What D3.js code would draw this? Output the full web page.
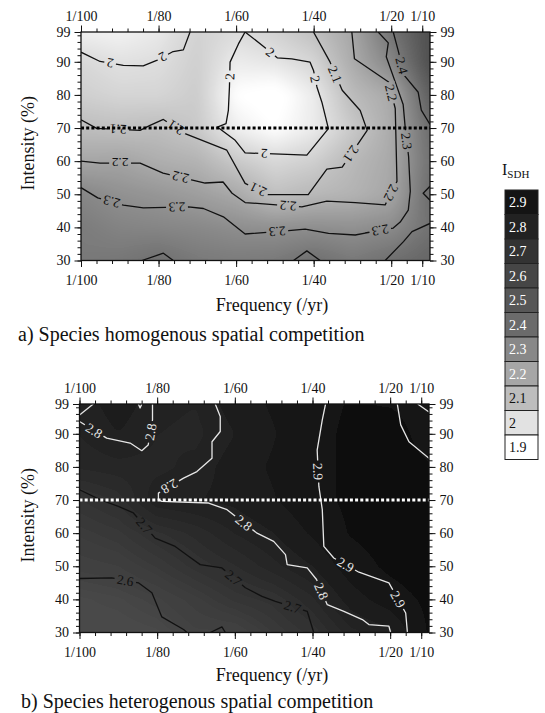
<!DOCTYPE html>
<html>
<head>
<meta charset="utf-8">
<script src="https://cdn.jsdelivr.net/npm/d3@7"></script>
<style>
  body { margin: 0; background: #fff; }
  svg { display: block; }
  text { font-family: "Liberation Serif", "Times New Roman", serif; }
</style>
</head>
<body>
<svg id="fig" width="545" height="713"></svg>
<script>
// ---- axes ----
const freqTicks = [0, 5, 10, 15, 20, 22];            // column index of each labelled frequency
const freqLabels = ["1/100", "1/80", "1/60", "1/40", "1/20", "1/10"];
const freqMinor = d3.range(0, 23);
const intensityTicks = [30, 40, 50, 60, 70, 80, 90, 99];
const intensityMinor = d3.range(30, 99, 2);
const thresholdIntensity = 70;

// ---- I_SDH field sampled on a coarse grid (rows: intensity, cols: frequency index) ----
const gridCols = [0, 2.5, 5, 7.5, 10, 12.5, 15, 17.5, 20, 22.5];
const gridRows = [99, 90, 80, 70, 60, 50, 40, 30];
const fieldA = [
  [1.95, 1.94, 1.97, 2.04, 2.01, 2.04, 2.10, 2.20, 2.39, 2.55],
  [2.02, 1.99, 2.00, 2.05, 1.96, 1.98, 2.03, 2.18, 2.32, 2.55],
  [2.05, 2.03, 2.03, 2.06, 1.90, 1.87, 1.96, 2.12, 2.19, 2.48],
  [2.11, 2.10, 2.11, 2.07, 1.95, 1.90, 1.96, 2.07, 2.18, 2.42],
  [2.20, 2.21, 2.17, 2.15, 2.07, 2.02, 2.05, 2.13, 2.19, 2.40],
  [2.32, 2.28, 2.26, 2.23, 2.19, 2.10, 2.13, 2.15, 2.20, 2.42],
  [2.36, 2.33, 2.32, 2.31, 2.29, 2.28, 2.29, 2.28, 2.30, 2.40],
  [2.37, 2.38, 2.41, 2.37, 2.36, 2.37, 2.41, 2.37, 2.41, 2.45]
];
const fieldB = [
  [2.79, 2.83, 2.79, 2.78, 2.83, 2.86, 2.89, 2.92, 2.91, 2.88],
  [2.78, 2.81, 2.78, 2.77, 2.81, 2.85, 2.89, 2.93, 2.95, 2.88],
  [2.76, 2.77, 2.77, 2.79, 2.83, 2.86, 2.89, 2.93, 2.95, 2.92],
  [2.69, 2.72, 2.80, 2.81, 2.82, 2.85, 2.89, 2.93, 2.96, 2.96],
  [2.65, 2.67, 2.71, 2.74, 2.78, 2.81, 2.86, 2.92, 2.95, 2.97],
  [2.62, 2.63, 2.66, 2.70, 2.73, 2.77, 2.81, 2.88, 2.93, 2.96],
  [2.58, 2.59, 2.61, 2.64, 2.68, 2.70, 2.75, 2.83, 2.88, 2.93],
  [2.57, 2.57, 2.58, 2.61, 2.61, 2.66, 2.70, 2.77, 2.80, 2.92]
];

// ---- isolines: [frequency index, intensity] vertices, labels placed on the line ----
const contoursA = [
  { level: 2, points: [[7.03,99],[6.6,93.6],[5.94,93.1],[4.88,90.4],[4.01,88.8],[2.73,88.9],[1.23,90.1],[0,92.9]],
    labels: [[5.29,91.3],[1.87,89.4]] },
  { level: 2, points: [[10.58,99],[11.81,94.5],[12.65,91.2],[13.59,90.9],[14.77,89.9],[14.99,87.4],[15.21,82.4],[15.53,77.8],[15.95,69.8],[14.56,61.8],[10.58,62.5],[9.94,66.3],[8.79,70.3],[9.35,71.3],[9.5,75.3],[9.57,82.4],[9.61,89.9],[10.15,95.4],[10.58,99]],
    labels: [[12.19,92.8],[15.03,84.7],[11.81,63.0],[9.55,85.6]] },
  { level: 2.1, points: [[14.99,99],[16.06,89.9],[16.84,81.4],[18.0,75.3],[18.45,69.3],[16.84,58.2],[15.85,57.6],[14.65,49.9],[12.06,49.9],[10.58,53.3],[9.4,63.3],[6.71,68.3],[5.31,72.6],[4.45,70.8],[3.81,69.3],[1.01,69.9],[0,72.5]],
    labels: [[16.52,86.5],[17.81,60.9],[11.42,51.5],[6.13,70.2],[2.39,69.6]] },
  { level: 2.2, points: [[17.46,99],[17.63,90.9],[19.83,83.9],[20.26,75.9],[20.37,53.9],[19.61,46.8],[17.68,47.5],[15.85,47.9],[14.24,46.2],[10.58,47.5],[9.74,50.3],[9.16,53.7],[8.0,53.4],[5.29,56.4],[3.81,59.4],[1.23,59.4],[0,60.0]],
    labels: [[19.87,80.5],[20.06,50.3],[13.35,46.7],[6.52,57.3],[2.52,61.2]] },
  { level: 2.3, points: [[19.16,99],[19.81,95.7],[19.68,91.5],[20.32,83.1],[20.77,77.1],[20.9,70.2],[21.12,61.4],[21.23,50.9],[21.1,45.2],[20.58,41.6],[20.13,39.8],[18.32,38.3],[17.68,37.7],[15.96,38.2],[14.45,39.5],[13.38,39.0],[10.58,38.0],[9.18,43.2],[7.89,45.7],[6.92,46.2],[4.02,45.9],[2.73,46.7],[1.08,48.9],[0,52.0]],
    labels: [[20.9,66],[19.29,39.2],[12.65,38.6],[6.19,45.8],[2.0,48.2]] },
  { level: 2.4, points: [[20.13,99],[20.45,93.4],[20.84,85.9],[21.74,80.8],[21.94,75.4],[22.5,71.1]], labels: [[20.71,88.9]] },
  { level: 2.4, points: [[22.5,52.4],[22.06,50.3],[22.5,48.2]], labels: [] },
  { level: 2.4, points: [[19.61,30],[20.79,35.7],[21.34,38.7],[22.5,41.2]], labels: [] },
  { level: 2.4, points: [[3.92,30],[5.31,32.2],[5.95,30]], labels: [] },
  { level: 2.4, points: [[13.7,30],[14.56,32.9],[15.42,30]], labels: [] }
];
const contoursB = [
  { level: 2.8, points: [[0,93.7],[1.75,88.7],[3.26,87.2],[4.01,84.9],[4.42,86.6],[4.7,94.2],[4.7,99]], labels: [[0.89,90.6],[4.55,90.6]] },
  { level: 2.8, points: [[0,95.7],[0.89,99]], labels: [] },
  { level: 2.8, points: [[3.79,99],[3.9,97.8],[4.01,99]], labels: [] },
  { level: 2.8, points: [[8.74,99],[9.06,95.2],[9.06,90.7],[8.53,87.6],[8.53,82.6],[7.56,78.6],[6.7,76.6],[5.08,72.1],[5.08,70.1],[5.3,69.6],[8.31,69.1],[9.5,67.1],[11.43,60.0],[12.5,57.5],[13.26,53.5],[13.37,50.5],[14.66,49.5],[15.26,46.0],[15.95,38.4],[17.02,36.4],[18.21,33.9],[18.63,32.4],[19.92,31.9],[20.03,30]],
    labels: [[5.73,74.6],[10.57,63.1],[15.52,42.4]] },
  { level: 2.9, points: [[15.84,99],[15.63,94.2],[15.3,85.1],[15.41,74.1],[15.63,67.1],[15.73,56.0],[16.37,52.5],[17.99,48.2],[19.92,45.0],[21.0,35.9],[21.11,30]],
    labels: [[15.3,78.6],[17.13,50.5],[20.46,39.9]] },
  { level: 2.9, points: [[20.46,99],[20.68,92.7],[21.21,87.6],[22.5,82.6]], labels: [] },
  { level: 2.9, points: [[21.77,99],[22.5,96.6]], labels: [] },
  { level: 2.7, points: [[0,73.1],[1.32,70.1],[2.5,68.1],[3.47,66.1],[4.87,58.5],[6.16,56.0],[7.02,53.0],[7.77,50.5],[9.17,49.5],[10.68,43.5],[11.75,40.9],[12.61,39.4],[14.66,36.4],[15.08,30]],
    labels: [[4.23,62.5],[9.92,46.5],[13.69,37.4]] },
  { level: 2.6, points: [[0,46.3],[2.08,46.5],[3.79,45.0],[4.66,42.0],[5.3,34.7],[6.7,30.9],[6.92,30]], labels: [[2.94,45.5]] },
  { level: 2.6, points: [[8.42,30],[9.17,31.7],[9.39,30]], labels: [] }
];

// ---- colour key ----
const legendLevels = [2.9, 2.8, 2.7, 2.6, 2.5, 2.4, 2.3, 2.2, 2.1, 2, 1.9];
const legendColors = ["#141414", "#222222", "#333333", "#464646", "#575757", "#6b6b6b",
                      "#888888", "#a6a6a6", "#bdbdbd", "#e2e2e2", "#ffffff"];
const shadeStops  = [1.9, 2.0, 2.1, 2.2, 2.3, 2.4, 2.5, 2.6, 2.7, 2.8, 2.9, 3.0];
const shadeColors = ["#ffffff", "#dedede", "#c0c0c0", "#a6a6a6", "#8b8b8b", "#717171",
                     "#595959", "#444444", "#323232", "#212121", "#131313", "#090909"];

const darkInk = "#111", lightInk = "#e6e6e6";
const inkFor = level => level >= 2.75 ? lightInk : darkInk;

const svg = d3.select("#fig");
const defs = svg.append("defs");
defs.append("filter").attr("id", "soft")
  .append("feGaussianBlur").attr("stdDeviation", 4);

const shade = d3.scaleLinear().domain(shadeStops).range(shadeColors).clamp(true);
const labelFmt = d3.format("~g");

function sampleField(grid, c, r) {
  const nc = gridCols.length, nr = gridRows.length;
  c = Math.max(gridCols[0], Math.min(gridCols[nc - 1], c));
  r = Math.max(gridRows[nr - 1], Math.min(gridRows[0], r));
  let ci = 0; while (ci < nc - 2 && c > gridCols[ci + 1]) ci++;
  let ri = 0; while (ri < nr - 2 && r < gridRows[ri + 1]) ri++;
  const tc = (c - gridCols[ci]) / (gridCols[ci + 1] - gridCols[ci]);
  const tr = (gridRows[ri] - r) / (gridRows[ri] - gridRows[ri + 1]);
  const top = grid[ri][ci] * (1 - tc) + grid[ri][ci + 1] * tc;
  const bot = grid[ri + 1][ci] * (1 - tc) + grid[ri + 1][ci + 1] * tc;
  return top * (1 - tr) + bot * tr;
}

function nearestOnLine(pts, p) {
  let best = null;
  for (let k = 0; k < pts.length - 1; k++) {
    const a = pts[k], b = pts[k + 1];
    const dx = b[0] - a[0], dy = b[1] - a[1];
    const len2 = dx * dx + dy * dy || 1;
    let t = ((p[0] - a[0]) * dx + (p[1] - a[1]) * dy) / len2;
    t = Math.max(0, Math.min(1, t));
    const q = [a[0] + t * dx, a[1] + t * dy];
    const d = (q[0] - p[0]) ** 2 + (q[1] - p[1]) ** 2;
    if (!best || d < best.d) best = { d, q, ang: Math.atan2(dy, dx) * 180 / Math.PI };
  }
  return best;
}

const panels = [
  { key: "a", left: 81, right: 430, top: 32, bottom: 260.5, field: fieldA, contours: contoursA,
    dots: "#000", caption: "a) Species homogenous spatial competition",
    captionX: 18, captionY: 341, titleY: 311 },
  { key: "b", left: 79.5, right: 429, top: 404, bottom: 632.5, field: fieldB, contours: contoursB,
    dots: "#fff", caption: "b) Species heterogenous spatial competition",
    captionX: 21, captionY: 708, titleY: 681 }
];

panels.forEach(p => {
  const x = d3.scaleLinear().domain([0, 22.5]).range([p.left, p.right]);
  const y = d3.scaleLinear().domain([30, 99]).range([p.bottom, p.top]);
  const g = svg.append("g");

  defs.append("clipPath").attr("id", "clip-" + p.key)
    .append("rect").attr("x", p.left).attr("y", p.top)
    .attr("width", p.right - p.left).attr("height", p.bottom - p.top);

  // shaded field, rendered on a canvas a little larger than the plot so the blur stays even
  const pad = 14;
  const cw = Math.ceil(p.right - p.left) + 2 * pad, ch = Math.ceil(p.bottom - p.top) + 2 * pad;
  const canvas = document.createElement("canvas");
  canvas.width = cw; canvas.height = ch;
  const ctx = canvas.getContext("2d");
  const img = ctx.createImageData(cw, ch);
  for (let j = 0; j < ch; j++) {
    const r = y.invert(p.top - pad + j + 0.5);
    for (let i = 0; i < cw; i++) {
      const c = x.invert(p.left - pad + i + 0.5);
      const col = d3.rgb(shade(sampleField(p.field, c, r)));
      const o = (j * cw + i) * 4;
      img.data[o] = col.r; img.data[o + 1] = col.g; img.data[o + 2] = col.b; img.data[o + 3] = 255;
    }
  }
  ctx.putImageData(img, 0, 0);
  g.append("g").attr("clip-path", `url(#clip-${p.key})`)
    .append("image")
    .attr("href", canvas.toDataURL())
    .attr("x", p.left - pad).attr("y", p.top - pad)
    .attr("width", cw).attr("height", ch)
    .attr("filter", "url(#soft)");

  // isolines with gaps cut for their labels
  const mask = defs.append("mask").attr("id", "gap-" + p.key)
    .attr("maskUnits", "userSpaceOnUse").attr("x", 0).attr("y", 0).attr("width", 545).attr("height", 713);
  mask.append("rect").attr("width", 545).attr("height", 713).attr("fill", "#fff");

  const line = d3.line().x(d => x(d[0])).y(d => y(d[1]));
  const lineG = g.append("g").attr("clip-path", `url(#clip-${p.key})`)
    .append("g").attr("mask", `url(#gap-${p.key})`);
  const labelG = g.append("g");

  p.contours.forEach(cn => {
    const ink = inkFor(cn.level);
    lineG.append("path").attr("d", line(cn.points))
      .attr("fill", "none").attr("stroke", ink).attr("stroke-width", 1.3)
      .attr("stroke-linejoin", "round");
    const px = cn.points.map(d => [x(d[0]), y(d[1])]);
    cn.labels.forEach(lb => {
      const hit = nearestOnLine(px, [x(lb[0]), y(lb[1])]);
      const t = labelG.append("text")
        .attr("transform", `translate(${hit.q[0]},${hit.q[1]}) rotate(${hit.ang})`)
        .attr("text-anchor", "middle").attr("dy", "0.35em")
        .attr("font-size", 13.5).attr("fill", ink)
        .text(labelFmt(cn.level));
      const w = t.node().getComputedTextLength() + 5;
      mask.append("rect")
        .attr("transform", `translate(${hit.q[0]},${hit.q[1]}) rotate(${hit.ang})`)
        .attr("x", -w / 2).attr("y", -6).attr("width", w).attr("height", 12).attr("fill", "#000");
    });
  });

  // threshold intensity
  g.append("path")
    .attr("d", d3.line()([[x(0), y(thresholdIntensity)], [x(22.5), y(thresholdIntensity)]]))
    .attr("stroke", p.dots).attr("stroke-width", 3).attr("stroke-dasharray", "3,2.2").attr("fill", "none");

  // frame and ticks
  g.append("rect").attr("x", p.left).attr("y", p.top)
    .attr("width", p.right - p.left).attr("height", p.bottom - p.top)
    .attr("fill", "none").attr("stroke", "#111").attr("stroke-width", 1.3);

  const style = sel => {
    sel.select(".domain").remove();
    sel.attr("font-family", "Liberation Serif, serif").attr("font-size", 14);
    sel.selectAll("line").attr("stroke", "#111");
    sel.selectAll("text").attr("fill", "#111");
  };
  const fmtF = (d) => freqLabels[freqTicks.indexOf(d)];
  g.append("g").attr("transform", `translate(0,${p.top})`)
    .call(d3.axisTop(x).tickValues(freqMinor).tickFormat("").tickSize(3.5)).call(style);
  g.append("g").attr("transform", `translate(0,${p.top})`)
    .call(d3.axisTop(x).tickValues(freqTicks).tickFormat(fmtF).tickSize(6.5).tickPadding(5)).call(style);
  g.append("g").attr("transform", `translate(0,${p.bottom})`)
    .call(d3.axisBottom(x).tickValues(freqMinor).tickFormat("").tickSize(3.5)).call(style);
  g.append("g").attr("transform", `translate(0,${p.bottom})`)
    .call(d3.axisBottom(x).tickValues(freqTicks).tickFormat(fmtF).tickSize(6.5).tickPadding(8)).call(style);
  g.append("g").attr("transform", `translate(${p.left},0)`)
    .call(d3.axisLeft(y).tickValues(intensityMinor).tickFormat("").tickSize(3.5)).call(style);
  g.append("g").attr("transform", `translate(${p.left},0)`)
    .call(d3.axisLeft(y).tickValues(intensityTicks).tickSize(6.5).tickPadding(4)).call(style);
  g.append("g").attr("transform", `translate(${p.right},0)`)
    .call(d3.axisRight(y).tickValues(intensityMinor).tickFormat("").tickSize(3.5)).call(style);
  g.append("g").attr("transform", `translate(${p.right},0)`)
    .call(d3.axisRight(y).tickValues(intensityTicks).tickSize(6.5).tickPadding(4)).call(style);

  // titles
  g.append("text").attr("x", 272).attr("y", p.titleY).attr("text-anchor", "middle")
    .attr("font-size", 18).attr("fill", "#111").text("Frequency (/yr)");
  g.append("text")
    .attr("transform", `translate(34,${(p.top + p.bottom) / 2 - 3}) rotate(-90)`)
    .attr("text-anchor", "middle").attr("font-size", 18).attr("fill", "#111").text("Intensity (%)");
  g.append("text").attr("x", p.captionX).attr("y", p.captionY)
    .attr("font-size", 20).attr("fill", "#111").text(p.caption);
});

// colour key
const key = svg.append("g");
const kTop = 190, kH = 24.5, kX = 505, kW = 33;
const ky = d3.scaleBand().domain(legendLevels).range([kTop, kTop + kH * legendLevels.length]);
const kt = key.append("text").attr("x", 502).attr("y", 175).attr("font-size", 16).attr("fill", "#111");
kt.append("tspan").text("I");
kt.append("tspan").attr("font-size", 11).attr("dy", 3).text("SDH");
legendLevels.forEach((lv, k) => {
  key.append("rect").attr("x", kX).attr("y", ky(lv)).attr("width", kW).attr("height", ky.bandwidth())
    .attr("fill", legendColors[k]).attr("stroke", "#222").attr("stroke-width", 1);
  key.append("text").attr("x", kX + 4).attr("y", ky(lv) + ky.bandwidth() / 2).attr("dy", "0.35em")
    .attr("font-size", 14)
    .attr("fill", d3.hsl(legendColors[k]).l < 0.7 ? "#fff" : "#111")
    .text(labelFmt(lv));
});
</script>
</body>
</html>
